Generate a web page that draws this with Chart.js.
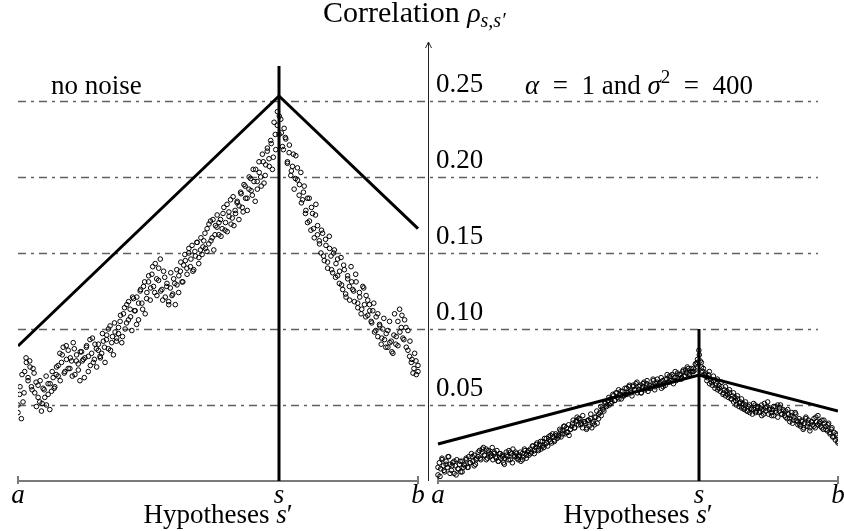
<!DOCTYPE html>
<html>
<head>
<meta charset="utf-8">
<script src="https://cdn.jsdelivr.net/npm/chart.js@4.4.1/dist/chart.umd.min.js"></script>
<style>
  body { margin: 0; background: #fff; }
  #wrap { width: 844px; height: 531px; }
</style>
</head>
<body>
<div id="wrap"><canvas id="chart" width="844" height="531"></canvas></div>
<script>
// y ticks (dashed levels) and their labels
const tickValues = [0.05, 0.10, 0.15, 0.20, 0.25];
const tickLabels = ['0.05', '0.10', '0.15', '0.20', '0.25'];
const xTickLabels = ['a', 's', 'b'];
const xTickPos = [0, 0.6525, 1];        // a, s, b inside a panel

// panels: left "no noise", right "alpha = 1 and sigma^2 = 400"
const panelOffset = [0, 1.05];
const axisPos = 1.025;

// model line (value at a, s, b) and top of vertical marker at s
const leftModel = [0.0888, 0.2533, 0.166];
const rightModel = [0.0243, 0.0697, 0.046];
const leftMarkerTop = 0.273;
const rightMarkerTop = 0.100;

// measured correlations, evenly spread from a to b (two passes per panel)
const leftY = [
  0.045, 0.057, 0.041, 0.052, 0.072, 0.078, 0.066, 0.079, 0.062, 0.074,
  0.058, 0.049, 0.063, 0.052, 0.046, 0.061, 0.055, 0.050, 0.064, 0.047,
  0.059, 0.068, 0.062, 0.075, 0.069, 0.084, 0.078, 0.088, 0.072, 0.080,
  0.086, 0.074, 0.079, 0.091, 0.070, 0.083, 0.077, 0.066, 0.085, 0.080,
  0.081, 0.089, 0.072, 0.093, 0.084, 0.078, 0.090, 0.075, 0.086, 0.082,
  0.084, 0.092, 0.078, 0.096, 0.087, 0.102, 0.091, 0.083, 0.098, 0.094,
  0.097, 0.105, 0.091, 0.110, 0.100, 0.116, 0.106, 0.113, 0.099, 0.120,
  0.112, 0.121, 0.106, 0.125, 0.117, 0.128, 0.110, 0.124, 0.131, 0.119,
  0.136, 0.128, 0.143, 0.122, 0.132, 0.146, 0.126, 0.138, 0.121, 0.130,
  0.118, 0.127, 0.122, 0.133, 0.116, 0.129, 0.124, 0.138, 0.131, 0.142,
  0.145, 0.136, 0.150, 0.141, 0.155, 0.139, 0.148, 0.157, 0.143, 0.152,
  0.149, 0.158, 0.153, 0.166, 0.156, 0.171, 0.160, 0.152, 0.168, 0.175,
  0.162, 0.172, 0.166, 0.180, 0.170, 0.164, 0.177, 0.185, 0.173, 0.168,
  0.176, 0.184, 0.172, 0.190, 0.180, 0.195, 0.186, 0.178, 0.192, 0.199,
  0.188, 0.197, 0.205, 0.192, 0.210, 0.200, 0.215, 0.196, 0.208, 0.219,
  0.212, 0.224, 0.205, 0.236, 0.218, 0.243, 0.228, 0.238, 0.220, 0.232,
  0.225, 0.210, 0.216, 0.201, 0.207, 0.192, 0.214, 0.198, 0.188, 0.203,
  0.185, 0.194, 0.178, 0.170, 0.186, 0.165, 0.176, 0.160, 0.182, 0.168,
  0.158, 0.150, 0.163, 0.145, 0.155, 0.140, 0.161, 0.148, 0.137, 0.152,
  0.143, 0.135, 0.130, 0.147, 0.126, 0.139, 0.121, 0.133, 0.128, 0.141,
  0.126, 0.118, 0.131, 0.114, 0.124, 0.110, 0.128, 0.116, 0.122, 0.109,
  0.116, 0.105, 0.112, 0.098, 0.108, 0.095, 0.103, 0.090, 0.100, 0.093,
  0.097, 0.088, 0.105, 0.092, 0.084, 0.110, 0.095, 0.089, 0.113, 0.101,
  0.094, 0.106, 0.088, 0.099, 0.082, 0.078, 0.071, 0.084, 0.070, 0.076
];

const leftY2 = [
  0.050, 0.062, 0.070, 0.058, 0.081, 0.068, 0.075, 0.060, 0.071, 0.065,
  0.055, 0.066, 0.051, 0.060, 0.069, 0.057, 0.064, 0.072, 0.061, 0.070,
  0.076, 0.066, 0.083, 0.071, 0.089, 0.074, 0.081, 0.069, 0.087, 0.079,
  0.073, 0.085, 0.079, 0.068, 0.088, 0.082, 0.076, 0.094, 0.080, 0.087,
  0.090, 0.081, 0.097, 0.088, 0.093, 0.100, 0.086, 0.095, 0.104, 0.092,
  0.101, 0.109, 0.095, 0.114, 0.104, 0.118, 0.108, 0.121, 0.112, 0.103,
  0.117, 0.126, 0.113, 0.131, 0.120, 0.135, 0.127, 0.141, 0.124, 0.133,
  0.140, 0.125, 0.119, 0.134, 0.128, 0.116, 0.137, 0.123, 0.130, 0.139,
  0.135, 0.144, 0.131, 0.149, 0.140, 0.153, 0.146, 0.138, 0.151, 0.157,
  0.147, 0.160, 0.154, 0.163, 0.151, 0.169, 0.158, 0.172, 0.162, 0.167,
  0.170, 0.161, 0.176, 0.165, 0.182, 0.174, 0.169, 0.187, 0.178, 0.183,
  0.181, 0.189, 0.177, 0.194, 0.186, 0.200, 0.191, 0.205, 0.184, 0.197,
  0.203, 0.194, 0.210, 0.201, 0.217, 0.207, 0.222, 0.213, 0.228, 0.234,
  0.240, 0.229, 0.218, 0.226, 0.209, 0.221, 0.204, 0.215, 0.199, 0.206,
  0.195, 0.183, 0.190, 0.176, 0.186, 0.171, 0.180, 0.166, 0.175, 0.162,
  0.156, 0.165, 0.148, 0.159, 0.144, 0.153, 0.139, 0.150, 0.134, 0.146,
  0.138, 0.129, 0.142, 0.123, 0.135, 0.119, 0.131, 0.125, 0.136, 0.117,
  0.121, 0.113, 0.127, 0.108, 0.119, 0.112, 0.104, 0.117, 0.099, 0.110,
  0.102, 0.094, 0.107, 0.088, 0.099, 0.091, 0.085, 0.096, 0.090, 0.105,
  0.098, 0.109, 0.093, 0.101, 0.086, 0.092, 0.080, 0.074, 0.079, 0.072
];

const rightY = [
  0.004, 0.012, 0.008, 0.015, 0.010, 0.006, 0.013, 0.009, 0.016, 0.011,
  0.007, 0.012, 0.005, 0.010, 0.014, 0.008, 0.011, 0.006, 0.013, 0.009,
  0.010, 0.014, 0.009, 0.016, 0.012, 0.018, 0.013, 0.017, 0.011, 0.015,
  0.016, 0.020, 0.014, 0.019, 0.022, 0.017, 0.021, 0.015, 0.019, 0.018,
  0.017, 0.014, 0.019, 0.016, 0.020, 0.013, 0.018, 0.015, 0.017, 0.012,
  0.015, 0.019, 0.016, 0.020, 0.014, 0.018, 0.021, 0.017, 0.019, 0.015,
  0.014, 0.017, 0.013, 0.018, 0.016, 0.020, 0.015, 0.019, 0.017, 0.021,
  0.019, 0.023, 0.018, 0.022, 0.025, 0.020, 0.024, 0.021, 0.026, 0.022,
  0.024, 0.028, 0.023, 0.027, 0.030, 0.025, 0.029, 0.026, 0.031, 0.028,
  0.030, 0.034, 0.029, 0.033, 0.036, 0.031, 0.035, 0.032, 0.030, 0.034,
  0.036, 0.040, 0.035, 0.039, 0.042, 0.037, 0.041, 0.038, 0.035, 0.039,
  0.038, 0.034, 0.040, 0.036, 0.041, 0.035, 0.039, 0.037, 0.042, 0.038,
  0.041, 0.045, 0.043, 0.048, 0.046, 0.051, 0.049, 0.053, 0.050, 0.054,
  0.052, 0.056, 0.053, 0.058, 0.055, 0.060, 0.057, 0.054, 0.059, 0.056,
  0.057, 0.061, 0.058, 0.063, 0.059, 0.056, 0.062, 0.060, 0.064, 0.058,
  0.060, 0.063, 0.058, 0.062, 0.065, 0.061, 0.064, 0.059, 0.063, 0.061,
  0.062, 0.066, 0.060, 0.064, 0.067, 0.063, 0.065, 0.061, 0.066, 0.064,
  0.063, 0.067, 0.065, 0.069, 0.066, 0.070, 0.064, 0.068, 0.066, 0.071,
  0.067, 0.070, 0.068, 0.072, 0.069, 0.073, 0.071, 0.074, 0.070, 0.072,
  0.072, 0.074, 0.073, 0.077, 0.080, 0.086, 0.079, 0.075, 0.072, 0.070,
  0.069, 0.066, 0.070, 0.064, 0.067, 0.063, 0.066, 0.061, 0.064, 0.060,
  0.063, 0.059, 0.062, 0.057, 0.060, 0.056, 0.059, 0.055, 0.058, 0.054,
  0.056, 0.052, 0.055, 0.050, 0.054, 0.049, 0.052, 0.048, 0.051, 0.047,
  0.050, 0.046, 0.049, 0.045, 0.048, 0.044, 0.047, 0.050, 0.046, 0.049,
  0.045, 0.048, 0.043, 0.047, 0.051, 0.046, 0.049, 0.044, 0.048, 0.045,
  0.047, 0.043, 0.049, 0.045, 0.042, 0.046, 0.050, 0.044, 0.047, 0.043,
  0.046, 0.041, 0.044, 0.039, 0.043, 0.038, 0.042, 0.045, 0.040, 0.037,
  0.041, 0.036, 0.039, 0.034, 0.038, 0.042, 0.036, 0.040, 0.035, 0.039,
  0.037, 0.041, 0.035, 0.039, 0.043, 0.038, 0.036, 0.040, 0.034, 0.038,
  0.036, 0.033, 0.038, 0.031, 0.034, 0.029, 0.032, 0.027, 0.030, 0.026
];

const rightY2 = [
  0.009, 0.003, 0.014, 0.007, 0.011, 0.016, 0.005, 0.010, 0.013, 0.004,
  0.008, 0.013, 0.006, 0.011, 0.015, 0.009, 0.012, 0.016, 0.010, 0.014,
  0.019, 0.015, 0.021, 0.017, 0.014, 0.020, 0.016, 0.022, 0.018, 0.015,
  0.013, 0.018, 0.016, 0.011, 0.017, 0.014, 0.019, 0.012, 0.016, 0.018,
  0.016, 0.019, 0.014, 0.021, 0.017, 0.020, 0.018, 0.023, 0.020, 0.024,
  0.021, 0.026, 0.023, 0.028, 0.025, 0.029, 0.026, 0.031, 0.027, 0.030,
  0.029, 0.033, 0.031, 0.036, 0.032, 0.037, 0.034, 0.038, 0.035, 0.040,
  0.041, 0.037, 0.043, 0.039, 0.035, 0.040, 0.044, 0.038, 0.042, 0.046,
  0.044, 0.049, 0.047, 0.052, 0.050, 0.055, 0.051, 0.057, 0.053, 0.058,
  0.054, 0.059, 0.056, 0.061, 0.057, 0.062, 0.058, 0.063, 0.060, 0.065,
  0.062, 0.058, 0.064, 0.060, 0.066, 0.061, 0.063, 0.067, 0.062, 0.065,
  0.064, 0.068, 0.062, 0.067, 0.070, 0.065, 0.069, 0.066, 0.072, 0.068,
  0.070, 0.067, 0.073, 0.069, 0.075, 0.071, 0.074, 0.072, 0.077, 0.078,
  0.083, 0.078, 0.074, 0.071, 0.068, 0.072, 0.065, 0.069, 0.063, 0.067,
  0.061, 0.065, 0.058, 0.062, 0.057, 0.060, 0.054, 0.058, 0.053, 0.056,
  0.051, 0.054, 0.048, 0.052, 0.046, 0.050, 0.047, 0.051, 0.045, 0.048,
  0.046, 0.050, 0.044, 0.048, 0.052, 0.047, 0.043, 0.049, 0.046, 0.050,
  0.048, 0.044, 0.046, 0.042, 0.047, 0.041, 0.045, 0.040, 0.044, 0.039,
  0.037, 0.040, 0.035, 0.041, 0.038, 0.033, 0.039, 0.036, 0.042, 0.037,
  0.039, 0.035, 0.040, 0.034, 0.037, 0.032, 0.035, 0.029, 0.031, 0.025
];

const FONT = '"Liberation Serif", "DejaVu Serif", serif';

function spread(values, offset) {
  return values.map((v, i) => ({ x: offset + i / (values.length - 1), y: v }));
}

function modelLine(model, offset) {
  return xTickPos.map((p, i) => ({ x: offset + p, y: model[i] }));
}

function marker(top, offset) {
  return [{ x: offset + xTickPos[1], y: 0 }, { x: offset + xTickPos[1], y: top }];
}

const pointStyle = {
  showLine: false,
  pointRadius: 2.3,
  pointBorderWidth: 1,
  borderColor: '#000',
  backgroundColor: 'rgba(255,255,255,0)',
  order: 2
};

const lineStyle = {
  showLine: true,
  pointRadius: 0,
  borderColor: '#000',
  borderWidth: 3,
  order: 0
};

// pieces: [text, style, dy, size], laid out one after another
function drawRun(ctx, pieces, x, y, align) {
  const widths = pieces.map(p => {
    ctx.font = (p[1] || '') + ' ' + (p[3] || 27) + 'px ' + FONT;
    return ctx.measureText(p[0]).width;
  });
  const total = widths.reduce((a, b) => a + b, 0);
  let cx = align === 'center' ? x - total / 2 : x;
  ctx.textAlign = 'left';
  ctx.textBaseline = 'alphabetic';
  pieces.forEach((p, i) => {
    ctx.font = (p[1] || '') + ' ' + (p[3] || 27) + 'px ' + FONT;
    ctx.fillText(p[0], cx, y + (p[2] || 0));
    cx += widths[i];
  });
}

const overlay = {
  id: 'overlay',
  beforeDatasetsDraw(chart) {
    const { ctx, scales: { x, y }, chartArea } = chart;
    ctx.save();

    // dash-dot levels
    ctx.strokeStyle = '#606060';
    ctx.lineWidth = 1.3;
    ctx.setLineDash([8, 5, 3, 5]);
    tickValues.forEach(v => {
      const py = Math.round(y.getPixelForValue(v)) + 0.5;
      ctx.beginPath();
      ctx.moveTo(x.getPixelForValue(0), py);
      ctx.lineTo(x.getPixelForValue(2.0), py);
      ctx.stroke();
    });
    ctx.setLineDash([]);

    // x axes of both panels
    const py0 = y.getPixelForValue(0);
    ctx.strokeStyle = '#7a7a7a';
    ctx.lineWidth = 2;
    panelOffset.forEach(off => {
      const x0 = x.getPixelForValue(off), x1 = x.getPixelForValue(off + 1);
      ctx.beginPath();
      ctx.moveTo(x0, py0); ctx.lineTo(x1, py0);
      ctx.moveTo(x0, py0 - 5); ctx.lineTo(x0, py0 + 3);
      ctx.moveTo(x1, py0 - 5); ctx.lineTo(x1, py0 + 3);
      ctx.stroke();
    });

    // shared y axis with arrow
    const ax = Math.round(x.getPixelForValue(axisPos)) + 0.5;
    ctx.strokeStyle = '#222';
    ctx.lineWidth = 1;
    ctx.beginPath();
    ctx.moveTo(ax, py0);
    ctx.lineTo(ax, chartArea.top);
    ctx.moveTo(ax - 3, chartArea.top + 6);
    ctx.lineTo(ax, chartArea.top);
    ctx.lineTo(ax + 3, chartArea.top + 6);
    ctx.stroke();
    ctx.restore();
  },
  afterDraw(chart) {
    const { ctx, scales: { x, y } } = chart;
    ctx.save();
    ctx.fillStyle = '#000';
    const ax = x.getPixelForValue(axisPos);

    tickValues.forEach((v, i) => {
      drawRun(ctx, [[tickLabels[i]]], ax + 8, y.getPixelForValue(v) - 9, 'left');
    });

    panelOffset.forEach(off => {
      xTickPos.forEach((p, i) => {
        drawRun(ctx, [[xTickLabels[i], 'italic']], x.getPixelForValue(off + p), 503, 'center');
      });
      drawRun(ctx, [['Hypotheses '], ['s', 'italic'], ['\u2032']],
        x.getPixelForValue(off + 0.5), 523, 'center');
    });

    drawRun(ctx, [['Correlation ', '', 0, 30], ['\u03c1', 'italic', 0, 28],
      ['s,s\u2032', 'italic', 5, 20]], 323, 22, 'left');
    drawRun(ctx, [['no noise']], 51, 94, 'left');
    drawRun(ctx, [['\u03b1', 'italic'], ['\u2002=\u20021 and '], ['\u03c3', 'italic'],
      ['2', '', -11, 19], ['\u2002=\u2002400']], 525, 94, 'left');
    ctx.restore();
  }
};

new Chart(document.getElementById('chart'), {
  type: 'scatter',
  data: {
    datasets: [
      Object.assign({ data: modelLine(leftModel, panelOffset[0]) }, lineStyle),
      Object.assign({ data: marker(leftMarkerTop, panelOffset[0]) }, lineStyle),
      Object.assign({ data: modelLine(rightModel, panelOffset[1]) }, lineStyle),
      Object.assign({ data: marker(rightMarkerTop, panelOffset[1]) }, lineStyle),
      Object.assign({ data: spread(leftY, panelOffset[0]) }, pointStyle),
      Object.assign({ data: spread(leftY2, panelOffset[0]) }, pointStyle),
      Object.assign({ data: spread(rightY, panelOffset[1]) }, pointStyle),
      Object.assign({ data: spread(rightY2, panelOffset[1]) }, pointStyle)
    ]
  },
  options: {
    responsive: false,
    animation: false,
    events: [],
    layout: { padding: { left: 18, right: 6, top: 42, bottom: 50 } },
    plugins: { legend: { display: false }, tooltip: { enabled: false } },
    scales: {
      x: { type: 'linear', min: 0, max: 2.05, display: false },
      y: { type: 'linear', min: 0, max: 0.2888, display: false }
    }
  },
  plugins: [overlay]
});
</script>
</body>
</html>
